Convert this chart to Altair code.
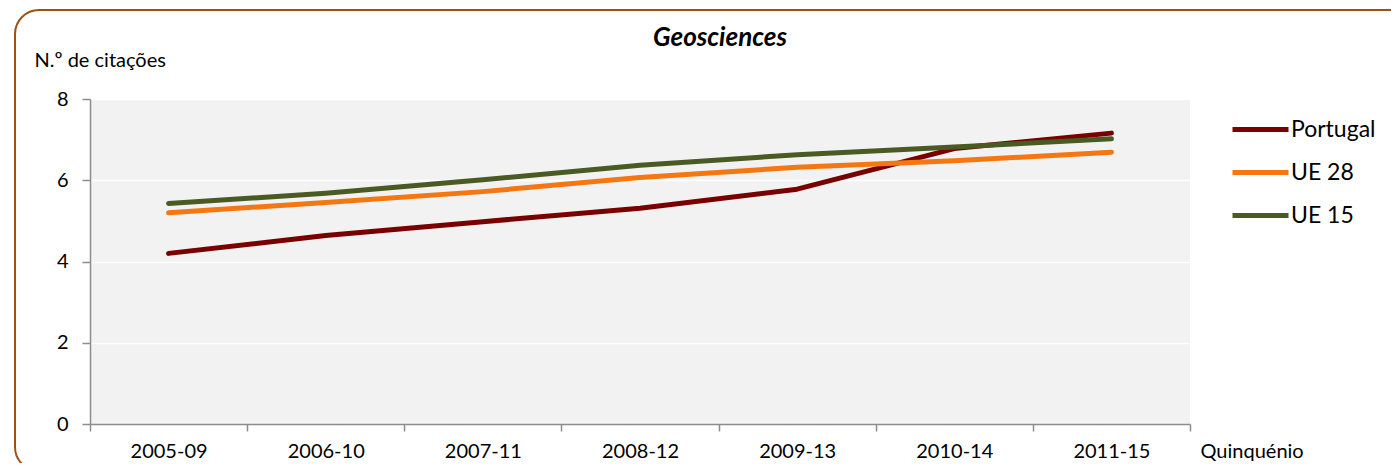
import altair as alt
import pandas as pd

chart_title = "Geosciences"
periods = ["2005-09", "2006-10", "2007-11", "2008-12", "2009-13", "2010-14", "2011-15"]
series_names = ["Portugal", "UE 28", "UE 15"]
portugal = [4.20, 4.64, 4.98, 5.31, 5.78, 6.78, 7.16]
ue28 = [5.20, 5.45, 5.72, 6.07, 6.32, 6.48, 6.69]
ue15 = [5.43, 5.68, 6.01, 6.37, 6.63, 6.82, 7.02]
colors = ["#7a0000", "#f47711", "#4a5a23"]

rows = []
for name, vals in zip(series_names, [portugal, ue28, ue15]):
    for p, v in zip(periods, vals):
        rows.append({"Quinquénio": p, "Série": name, "Valor": v})
df = pd.DataFrame(rows)

FONT = "Lato"

lines = alt.Chart(df).mark_line(strokeWidth=5, strokeCap="round", strokeJoin="round").encode(
    x=alt.X("Quinquénio:N", sort=periods, bandPosition=0.5,
            scale=alt.Scale(type="band", paddingInner=0, paddingOuter=0),
            axis=alt.Axis(title="Quinquénio", tickBand="extent", labelAngle=0,
                          tickSize=7, labelPadding=10, domainColor="#8c8c8c", tickColor="#8c8c8c",
                          domainWidth=1.5, tickWidth=1.5, grid=False,
                          titleX=1110, titleY=27, titleAlign="left", titleBaseline="middle",
                          titleFontWeight="normal")),
    y=alt.Y("Valor:Q", scale=alt.Scale(domain=[0, 8], nice=False),
            axis=alt.Axis(title="N.º de citações", values=[0, 2, 4, 6, 8], tickSize=8, labelPadding=14,
                          domainColor="#8c8c8c", tickColor="#8c8c8c", domainWidth=1.5, tickWidth=1.5,
                          grid=True, gridColor="#ffffff", gridWidth=1.5,
                          titleAngle=0, titleX=-56, titleY=-39, titleAlign="left",
                          titleBaseline="middle", titleFontWeight="normal")),
    color=alt.Color("Série:N", sort=series_names,
                    scale=alt.Scale(domain=series_names, range=colors),
                    legend=alt.Legend(title=None, orient="none", legendX=1140, legendY=0,
                                      symbolType="stroke", symbolSize=3136, symbolStrokeWidth=5,
                                      labelOffset=0, rowPadding=-16, labelFontSize=23,
                                      labelFont=FONT, labelColor="#000000")),
    order=alt.Order("order:Q"),
).transform_calculate(
    order="indexof(['Portugal','UE 28','UE 15'], datum['Série'])"
)

one = pd.DataFrame({"k": [0]})

border = alt.Chart(one).mark_rect(
    fill=None, stroke="#9c5215", strokeWidth=2, cornerRadius=24, clip=False
).encode(x=alt.value(-75), x2=alt.value(1330), y=alt.value(-89), y2=alt.value(372))

title = alt.Chart(one).mark_text(
    font=FONT, fontSize=26, fontWeight="bold", fontStyle="italic", color="#000000",
    align="center", baseline="middle", clip=False
).encode(x=alt.value(630), y=alt.value(-61), text=alt.value(chart_title))

chart = alt.layer(lines, border, title).properties(
    width=1100, height=325,
    background="#ffffff",
    autosize=alt.AutoSizeParams(type="none"),
    padding={"left": 82, "top": 91, "right": 201, "bottom": 39},
).configure_view(fill="#f2f2f2", stroke=None).configure_axis(
    labelFont=FONT, titleFont=FONT, labelFontSize=20, titleFontSize=20,
    labelColor="#000000", titleColor="#000000"
)

chart.save("out.html", embed_options={"renderer": "svg", "actions": False})
